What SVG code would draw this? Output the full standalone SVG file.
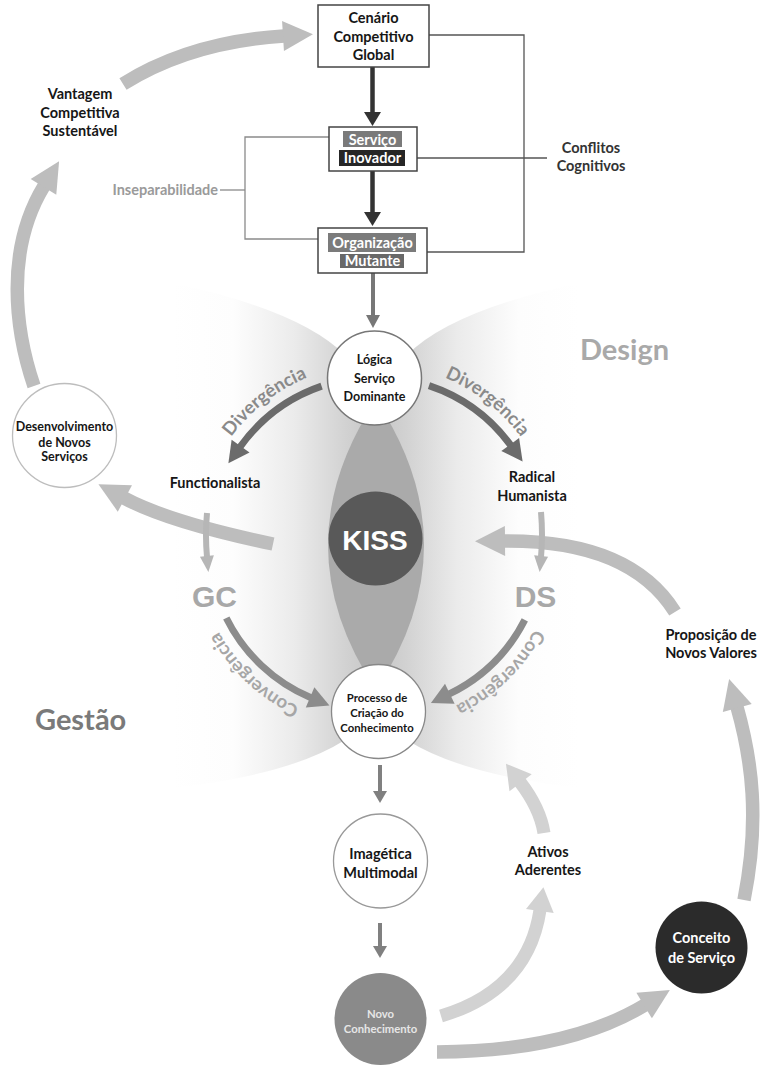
<svg xmlns="http://www.w3.org/2000/svg" width="762" height="1066" viewBox="0 0 762 1066">
<style>
  .t{font-family:Lato,"Open Sans","Liberation Sans",sans-serif;font-weight:700;text-anchor:middle;fill:#161616}
  .n{font-size:14.5px}
  .s{font-size:12.5px}
  .xs{font-size:11.3px}
  .w{fill:#fff}
  .big{font-family:"Liberation Sans",Arial,sans-serif;font-weight:700;text-anchor:middle;font-size:30px;fill:#a8a8a8}
  .area{font-family:Lato,"Open Sans",sans-serif;font-weight:700;font-size:29px}
  .arc{font-family:Lato,"Open Sans",sans-serif;font-weight:700;font-size:18.5px;text-anchor:middle}
  .box{fill:#fff;stroke:#444;stroke-width:1.5}
  .ln{fill:none;stroke:#555;stroke-width:1.3}
  .lnL{fill:none;stroke:#8a8a8a;stroke-width:1.3}
  .sh{fill:none;stroke-linecap:butt}
  .g1{stroke:#bdbdbd;stroke-width:13.5}
  .g2{stroke:#d2d2d2;stroke-width:13}
  .dv{stroke:#6b6b6b;stroke-width:7}
  .cv{stroke:#8c8c8c;stroke-width:7}
  .vs{stroke:#b6b6b6;stroke-width:6}
  .dk{stroke:#333;stroke-width:4.5}
  .md{stroke:#777;stroke-width:4}
  .dn{stroke:#808080;stroke-width:4}
</style>
<defs>
  <!-- fans fade from white at the outer edge to grey at the lens -->
  <linearGradient id="fanL" x1="0" y1="0" x2="1" y2="0">
    <stop offset="0" stop-color="#ffffff"/>
    <stop offset="0.3" stop-color="#fdfdfd"/>
    <stop offset="0.6" stop-color="#ebebeb"/>
    <stop offset="0.85" stop-color="#d2d2d2"/>
    <stop offset="1" stop-color="#c6c6c6"/>
  </linearGradient>
  <linearGradient id="fanR" x1="1" y1="0" x2="0" y2="0">
    <stop offset="0" stop-color="#ffffff"/>
    <stop offset="0.3" stop-color="#fdfdfd"/>
    <stop offset="0.6" stop-color="#ebebeb"/>
    <stop offset="0.85" stop-color="#d2d2d2"/>
    <stop offset="1" stop-color="#c6c6c6"/>
  </linearGradient>
  <marker id="hBig" markerUnits="userSpaceOnUse" orient="auto" overflow="visible" markerWidth="40" markerHeight="40" refX="0" refY="0">
    <path d="M-1,-15 L29,0 L-1,15z" fill="#bdbdbd"/>
  </marker>
  <marker id="hLight" markerUnits="userSpaceOnUse" orient="auto" overflow="visible" markerWidth="40" markerHeight="40" refX="0" refY="0">
    <path d="M-1,-14 L23,0 L-1,14z" fill="#d2d2d2"/>
  </marker>
  <marker id="hDiv" markerUnits="userSpaceOnUse" orient="auto" overflow="visible" markerWidth="40" markerHeight="40" refX="0" refY="0">
    <path d="M-1,-11 L20,0 L-1,11z" fill="#6b6b6b"/>
  </marker>
  <marker id="hConv" markerUnits="userSpaceOnUse" orient="auto" overflow="visible" markerWidth="40" markerHeight="40" refX="0" refY="0">
    <path d="M-1,-11 L20,0 L-1,11z" fill="#8c8c8c"/>
  </marker>
  <marker id="hVs" markerUnits="userSpaceOnUse" orient="auto" overflow="visible" markerWidth="40" markerHeight="40" refX="0" refY="0">
    <path d="M-1,-7 L15,0 L-1,7z" fill="#b6b6b6"/>
  </marker>
  <marker id="hDk" markerUnits="userSpaceOnUse" orient="auto" overflow="visible" markerWidth="40" markerHeight="40" refX="0" refY="0">
    <path d="M-1,-8.5 L13,0 L-1,8.5z" fill="#333"/>
  </marker>
  <marker id="hMd" markerUnits="userSpaceOnUse" orient="auto" overflow="visible" markerWidth="40" markerHeight="40" refX="0" refY="0">
    <path d="M-1,-7 L12,0 L-1,7z" fill="#777"/>
  </marker>
  <marker id="hDn" markerUnits="userSpaceOnUse" orient="auto" overflow="visible" markerWidth="40" markerHeight="40" refX="0" refY="0">
    <path d="M-1,-7 L11,0 L-1,7z" fill="#808080"/>
  </marker>
  <!-- label arcs, all concentric with the central cycle (centre 376,544) -->
  <path id="pDivL" d="M206.85,482.44 A180,180 0 0 1 357.18,364.99"/>
  <path id="pDivR" d="M394.82,364.99 A180,180 0 0 1 545.15,482.44"/>
  <path id="pConvL" d="M341.65,720.69 A180,180 0 0 1 202.13,590.59"/>
  <path id="pConvR" d="M550.65,587.55 A180,180 0 0 1 413.42,720.07"/>
</defs>

<!-- background fans and central lens -->
<g id="background">
  <path d="M172,283 Q300,310 345,355 L376,400 L376,690 L345,740 Q290,775 172,788 Z" fill="url(#fanL)"/>
  <path d="M580,283 Q452,310 407,355 L376,400 L376,690 L407,740 Q462,775 580,788 Z" fill="url(#fanR)"/>
  <path d="M376,400 Q280,545 376,690 Q472,545 376,400 Z" fill="#aaaaaa"/>
</g>

<!-- area titles -->
<g id="area-design"><text class="area" x="580" y="360" fill="#a9a9a9">Design</text></g>
<g id="area-gestao"><text class="area" x="35" y="730" fill="#7a7a7a">Gestão</text></g>

<g id="connectors">
  <!-- bracket lines -->
  <path class="ln" d="M429,35 H524 V252 H427"/>
  <path class="ln" d="M405,158 H547"/>
  <path class="lnL" d="M343,137 H245 V239 H328"/>
  <path class="lnL" d="M220,190 H245"/>

  <!-- vertical chain -->
  <path class="sh dk" d="M372.5,67 L372.5,113" marker-end="url(#hDk)"/>
  <path class="sh dk" d="M372.5,166 L372.5,213" marker-end="url(#hDk)"/>
  <path class="sh md" d="M373,273 L373,316" marker-end="url(#hMd)"/>
  <path class="sh dn" d="M380,765 L380,792" marker-end="url(#hDn)"/>
  <path class="sh dn" d="M380,923 L380,947" marker-end="url(#hDn)"/>

  <!-- outer cycle -->
  <path class="sh g1" d="M123,84 Q190,42 284,36" marker-end="url(#hBig)"/>
  <path class="sh g1" d="M34,386 C15,330 5,250 44,186" marker-end="url(#hBig)"/>
  <path class="sh g1" d="M273,544 C230,535 165,520 124,498" marker-end="url(#hBig)"/>
  <path class="sh g1" d="M675,612 Q630,540 504,541" marker-end="url(#hBig)"/>
  <path class="sh g1" d="M437,1052 C500,1052 582,1043 645,1005" marker-end="url(#hBig)"/>
  <path class="sh g1" d="M744,900 C760,820 752,760 737,707" marker-end="url(#hBig)"/>
  <path class="sh g2" d="M441,1016 Q528,990 540,910" marker-end="url(#hLight)"/>
  <path class="sh g2" d="M544,833 Q540,808 520,782" marker-end="url(#hLight)"/>

  <!-- divergence / convergence -->
  <path class="sh dv" d="M321.6,386.1 A167,167 0 0 0 240.0,447.0" marker-end="url(#hDiv)"/>
  <path class="sh dv" d="M429.0,385.6 A167,167 0 0 1 510.8,445.4" marker-end="url(#hDiv)"/>
  <path class="sh cv" d="M226.3,618.0 A167,167 0 0 0 311.0,697.8" marker-end="url(#hConv)"/>
  <path class="sh cv" d="M524.8,619.8 A167,167 0 0 1 448.9,694.2" marker-end="url(#hConv)"/>

  <!-- short drops to GC and DS -->
  <path class="sh vs" d="M207,513 Q205,535 207,557" marker-end="url(#hVs)"/>
  <path class="sh vs" d="M541,512 Q543,535 541,557" marker-end="url(#hVs)"/>
</g>

<!-- arc labels -->
<g id="labels-arcs">
  <text class="arc" fill="#8a8a8a"><textPath href="#pDivL" startOffset="50%">Divergência</textPath></text>
  <text class="arc" fill="#8a8a8a"><textPath href="#pDivR" startOffset="50%">Divergência</textPath></text>
  <text class="arc" fill="#a6a6a6"><textPath href="#pConvL" startOffset="50%">Convergência</textPath></text>
  <text class="arc" fill="#a6a6a6"><textPath href="#pConvR" startOffset="50%">Convergência</textPath></text>
</g>

<!-- top boxes -->
<g id="cenario">
  <rect class="box" x="318" y="5" width="111" height="62"/>
  <text class="t n"><tspan x="373.5" y="23">Cenário</tspan><tspan x="373.5" y="41.5">Competitivo</tspan><tspan x="373.5" y="60">Global</tspan></text>
</g>
<g id="servico-inovador">
  <rect class="box" x="329" y="127" width="88" height="44"/>
  <rect x="343" y="131" width="59" height="16" fill="#7a7a7a"/>
  <rect x="339" y="150" width="66" height="16" fill="#262626"/>
  <text class="t n w" x="372.5" y="144.5">Serviço</text>
  <text class="t n w" x="372.5" y="163">Inovador</text>
</g>
<g id="organizacao-mutante">
  <rect class="box" x="318" y="228" width="109" height="45"/>
  <rect x="328" y="233" width="88" height="19" fill="#7b7b7b"/>
  <rect x="340" y="254" width="64" height="14" fill="#686868"/>
  <text class="t n w" x="372.5" y="248">Organização</text>
  <text class="t n w" x="372.5" y="265.5">Mutante</text>
</g>

<!-- side labels -->
<g id="vantagem">
  <text class="t n"><tspan x="80" y="99">Vantagem</tspan><tspan x="80" y="117.5">Competitiva</tspan><tspan x="80" y="135.5">Sustentável</tspan></text>
</g>
<g id="inseparabilidade"><text class="t n" x="218" y="194.5" style="text-anchor:end;fill:#9a9a9a">Inseparabilidade</text></g>
<g id="conflitos">
  <text class="t n" style="fill:#333"><tspan x="591" y="153">Conflitos</tspan><tspan x="591" y="170.5">Cognitivos</tspan></text>
</g>
<g id="functionalista"><text class="t n" x="215" y="488">Functionalista</text></g>
<g id="radical-humanista">
  <text class="t n"><tspan x="532" y="482">Radical</tspan><tspan x="532" y="500.5">Humanista</tspan></text>
</g>
<g id="gc"><text class="big" x="214.5" y="607">GC</text></g>
<g id="ds"><text class="big" x="535.5" y="607">DS</text></g>
<g id="proposicao">
  <text class="t n"><tspan x="711" y="640">Proposição de</tspan><tspan x="711" y="658">Novos Valores</tspan></text>
</g>
<g id="ativos">
  <text class="t n"><tspan x="548" y="857">Ativos</tspan><tspan x="548" y="875">Aderentes</tspan></text>
</g>

<!-- circle nodes -->
<g id="desenvolvimento">
  <circle cx="64.5" cy="435.5" r="52" fill="#fff" stroke="#bdbdbd" stroke-width="1.3"/>
  <text class="t s"><tspan x="64.5" y="431">Desenvolvimento</tspan><tspan x="64.5" y="446.5">de Novos</tspan><tspan x="64.5" y="461">Serviços</tspan></text>
</g>
<g id="logica">
  <circle cx="374.5" cy="378" r="47" fill="#fff" stroke="#777" stroke-width="1.5"/>
  <text class="t s"><tspan x="374.5" y="364">Lógica</tspan><tspan x="374.5" y="382.5">Serviço</tspan><tspan x="374.5" y="400.5">Dominante</tspan></text>
</g>
<g id="kiss">
  <circle cx="375.5" cy="538.5" r="47" fill="#595959"/>
  <text x="375" y="550" style="font-family:'Liberation Sans',Arial,sans-serif;font-weight:700;font-size:28px;text-anchor:middle;fill:#fff">KISS</text>
</g>
<g id="processo">
  <circle cx="378.5" cy="711.5" r="47" fill="#fff" stroke="#888" stroke-width="1.3"/>
  <text class="t xs"><tspan x="377" y="701.5">Processo de</tspan><tspan x="377" y="716.5">Criação do</tspan><tspan x="377" y="731.5">Conhecimento</tspan></text>
</g>
<g id="imagetica">
  <circle cx="380.5" cy="861" r="47" fill="#fff" stroke="#999" stroke-width="1.3"/>
  <text class="t n"><tspan x="380.5" y="859">Imagética</tspan><tspan x="380.5" y="878">Multimodal</tspan></text>
</g>
<g id="novo-conhecimento">
  <circle cx="380.5" cy="1019" r="46" fill="#8a8a8a"/>
  <text class="t xs" style="fill:#e6e6e6"><tspan x="380.5" y="1018">Novo</tspan><tspan x="380.5" y="1033">Conhecimento</tspan></text>
</g>
<g id="conceito">
  <circle cx="701.5" cy="947.5" r="46" fill="#2b2b2b"/>
  <text class="t n w"><tspan x="701.5" y="943">Conceito</tspan><tspan x="701.5" y="963">de Serviço</tspan></text>
</g>
</svg>
